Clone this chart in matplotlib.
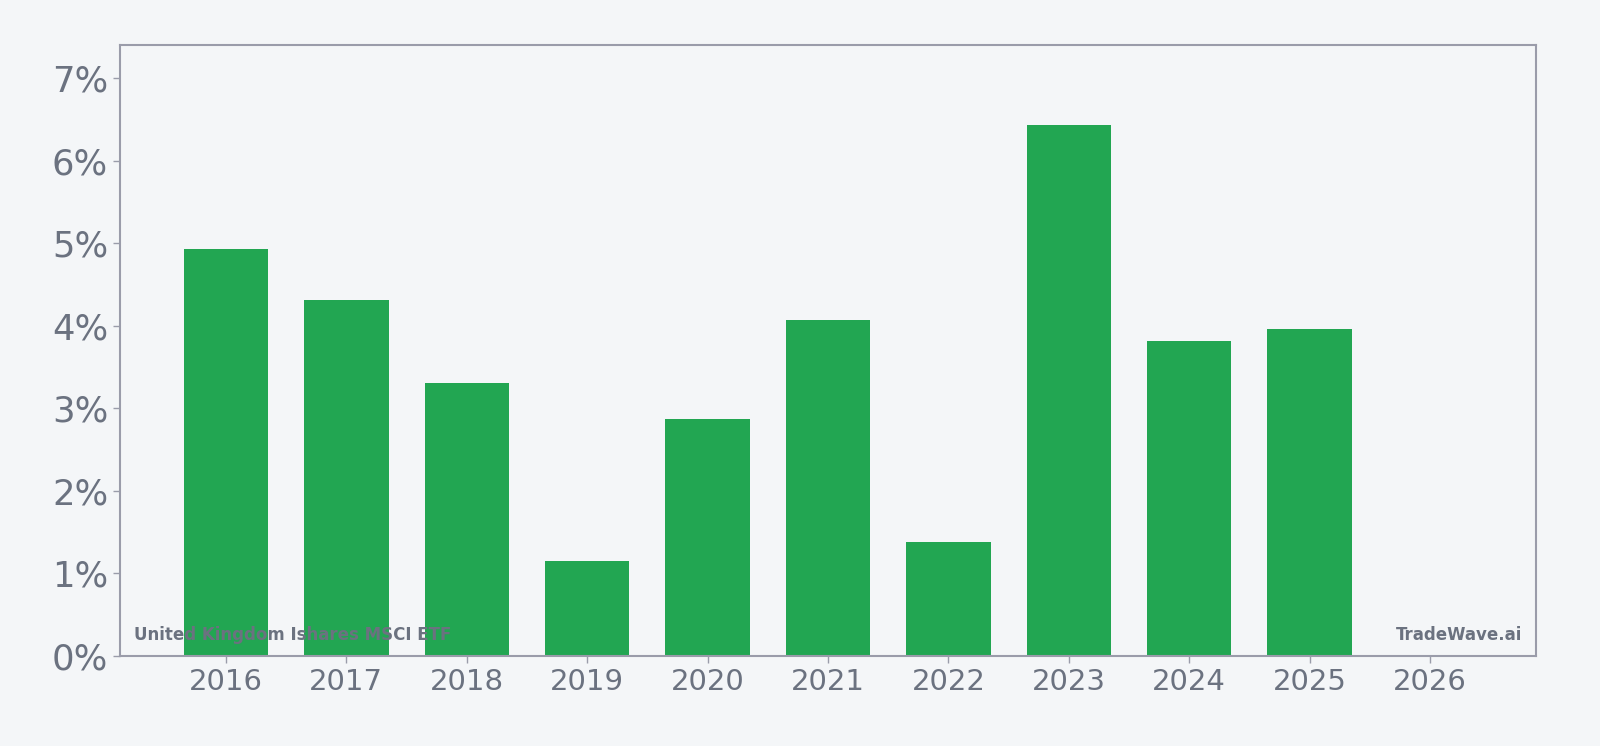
import matplotlib
matplotlib.use("Agg")
import matplotlib.pyplot as plt
from matplotlib.ticker import FuncFormatter, MultipleLocator

years = [2016, 2017, 2018, 2019, 2020, 2021, 2022, 2023, 2024, 2025]
values = [4.93, 4.31, 3.31, 1.15, 2.87, 4.07, 1.38, 6.43, 3.82, 3.96]
xticks = [2016, 2017, 2018, 2019, 2020, 2021, 2022, 2023, 2024, 2025, 2026]
title_text = "United Kingdom Ishares MSCI ETF"
brand_text = "TradeWave.ai"

bg = "#f4f6f8"
green = "#22a652"
text_col = "#6b7280"
spine_col = "#9a9caa"

fig = plt.figure(figsize=(16, 7.46), dpi=100, facecolor=bg)
ax = fig.add_axes([120/1600, 1 - 656/746, (1536-120)/1600, (656-45)/746])
ax.set_facecolor(bg)

ax.bar(years, values, width=0.7, color=green, zorder=2)

ax.set_xlim(2015.12, 2026.88)
ax.set_ylim(0, 7.4)
ax.set_xticks(xticks)
ax.set_xticklabels([str(y) for y in xticks])
ax.yaxis.set_major_locator(MultipleLocator(1))
ax.yaxis.set_major_formatter(FuncFormatter(lambda v, p: f"{v:.0f}%"))

ax.tick_params(axis="x", labelsize=21, colors=spine_col, labelcolor=text_col, length=5, width=1)
ax.tick_params(axis="y", labelsize=25.5, colors=spine_col, labelcolor=text_col, length=5, width=1)

for s in ax.spines.values():
    s.set_color(spine_col)
    s.set_linewidth(1.5)

ax.text(0.01, 0.019, title_text, transform=ax.transAxes, fontsize=12, fontweight="bold",
        color=text_col, ha="left", va="bottom", zorder=3)
ax.text(0.99, 0.019, brand_text, transform=ax.transAxes, fontsize=12, fontweight="bold",
        color=text_col, ha="right", va="bottom", zorder=3)

fig.savefig("out.png", dpi=100, facecolor=bg)
